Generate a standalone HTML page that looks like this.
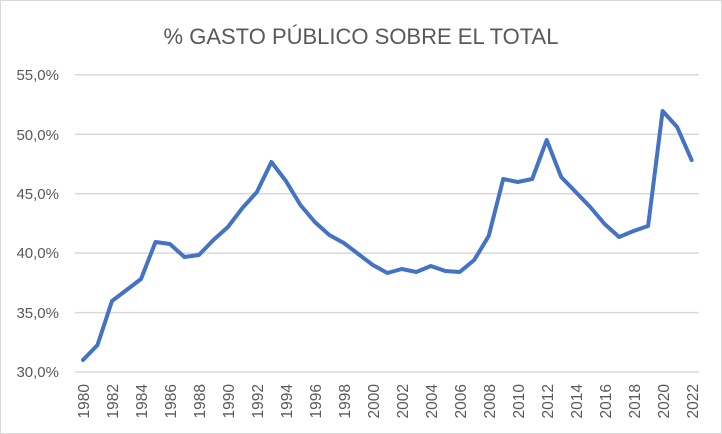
<!DOCTYPE html>
<html><head><meta charset="utf-8"><style>body{margin:0;background:#fff}svg{display:block}</style></head><body>
<svg width="722" height="434" xmlns="http://www.w3.org/2000/svg" font-family="Liberation Sans, sans-serif">
<rect x="0.5" y="0.5" width="721" height="433" fill="#fff" stroke="#d9d9d9"/>
<text x="361" y="44" text-anchor="middle" font-size="22" fill="#595959">% GASTO PÚBLICO SOBRE EL TOTAL</text>
<g stroke="#d9d9d9" stroke-width="1.5">
<line x1="75" x2="699" y1="74.7" y2="74.7"/><line x1="75" x2="699" y1="134.2" y2="134.2"/><line x1="75" x2="699" y1="193.7" y2="193.7"/><line x1="75" x2="699" y1="253.1" y2="253.1"/><line x1="75" x2="699" y1="312.6" y2="312.6"/><line x1="75" x2="699" y1="372" y2="372"/>
</g>
<g font-size="15" fill="#595959" text-anchor="end">
<text x="59" y="80">55,0%</text><text x="59" y="140">50,0%</text><text x="59" y="199">45,0%</text><text x="59" y="258">40,0%</text><text x="59" y="318">35,0%</text><text x="59" y="377">30,0%</text>
</g>
<g font-size="15.5" fill="#595959" text-anchor="end">
<text transform="translate(89,384) rotate(-90)">1980</text>
<text transform="translate(118,384) rotate(-90)">1982</text>
<text transform="translate(147,384) rotate(-90)">1984</text>
<text transform="translate(176,384) rotate(-90)">1986</text>
<text transform="translate(205,384) rotate(-90)">1988</text>
<text transform="translate(234,384) rotate(-90)">1990</text>
<text transform="translate(263,384) rotate(-90)">1992</text>
<text transform="translate(292,384) rotate(-90)">1994</text>
<text transform="translate(321,384) rotate(-90)">1996</text>
<text transform="translate(350,384) rotate(-90)">1998</text>
<text transform="translate(379,384) rotate(-90)">2000</text>
<text transform="translate(408,384) rotate(-90)">2002</text>
<text transform="translate(437,384) rotate(-90)">2004</text>
<text transform="translate(466,384) rotate(-90)">2006</text>
<text transform="translate(495,384) rotate(-90)">2008</text>
<text transform="translate(524,384) rotate(-90)">2010</text>
<text transform="translate(553,384) rotate(-90)">2012</text>
<text transform="translate(582,384) rotate(-90)">2014</text>
<text transform="translate(611,384) rotate(-90)">2016</text>
<text transform="translate(640,384) rotate(-90)">2018</text>
<text transform="translate(669,384) rotate(-90)">2020</text>
<text transform="translate(698,384) rotate(-90)">2022</text>
</g>
<polyline fill="none" stroke="#4472c4" stroke-width="4" stroke-linejoin="round" stroke-linecap="round" points="83.0,360 97.5,345 112.0,301 126.5,290 141.0,279 155.5,242 169.9,244 184.4,257 198.9,255 213.4,240 227.9,227 242.4,208 256.9,192 271.4,162 285.9,181 300.4,205 314.8,222 329.3,235 343.8,243 358.3,254 372.8,265 387.3,273 401.8,269 416.3,272 430.8,266 445.3,271 459.7,272 474.2,260 488.7,236 503.2,179 517.7,182 532.2,179 546.7,140 561.2,177 575.7,192 590.2,207 604.6,224 619.1,237 633.6,231 648.1,226 662.6,111 677.1,127 691.6,160"/>
</svg>
</body></html>
